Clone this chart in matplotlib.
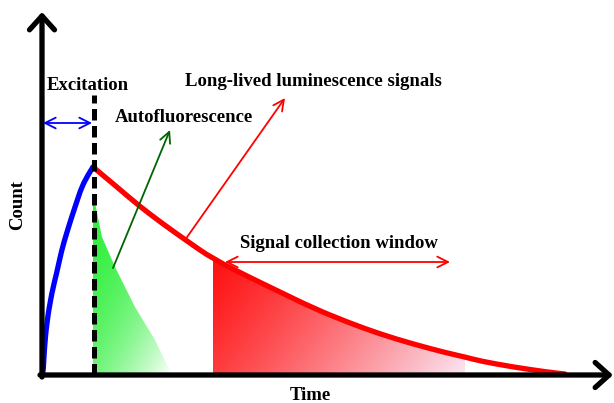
import matplotlib
matplotlib.use('Agg')
import matplotlib.pyplot as plt
from matplotlib.patches import Polygon, PathPatch
from matplotlib.path import Path
import numpy as np

# Excitation rise (blue)
rise_t = [0, 0.6, 1.3, 2.3, 4.7, 9.7, 14.7, 19.7, 24.7, 29.7, 34.7, 39.7, 46, 51]
rise_y = [0, 2, 5, 25, 52, 82, 102, 125, 142, 158, 173, 188, 200, 208]

# Long-lived luminescence decay (red)
decay_t = [51, 75, 96, 121, 145, 171, 211, 238, 271, 305, 338, 371, 405, 423, 438, 471, 505, 523]
decay_y = [208, 188, 170, 151, 134, 116, 96, 83, 67, 53, 41, 31, 22, 18, 14, 8, 3, 1]

# Autofluorescence decay (green filled area)
auto_t = [51, 53, 60, 73, 93, 113, 126, 130]
auto_y = [175, 172, 138, 108, 68, 35, 8, 0]

excitation_end = 52
window_start, window_end = 171, 423

FONT = dict(family='Liberation Serif', weight='bold', size=13.5)

fig = plt.figure(figsize=(6.14, 4.03), dpi=100)
ax = fig.add_axes([0, 0, 1, 1])
ax.axis('off')


def smooth_path(xs, ys):
    """quadratic bezier through the midpoints, using read points as controls"""
    pts = np.column_stack([xs, ys]).astype(float)
    verts = [pts[0], (pts[0] + pts[1]) / 2]
    codes = [Path.MOVETO, Path.LINETO]
    for i in range(1, len(pts) - 1):
        verts += [pts[i], (pts[i] + pts[i + 1]) / 2]
        codes += [Path.CURVE3, Path.CURVE3]
    verts.append(pts[-1])
    codes.append(Path.LINETO)
    return Path(verts, codes)


def gradient_fill(xs, ys, extent, c0, c1, wx, wy, power=1.0):
    """fill polygon xs/ys with a diagonal gradient c0 (top-left) -> c1 (bottom-right)"""
    xx, yy = np.meshgrid(np.linspace(0, 1, 200), np.linspace(0, 1, 120))
    t = (xx * wx + (1 - yy) * wy) / (wx + wy)
    t = np.clip(t, 0, 1) ** power
    img = np.array(c0)[None, None, :] * (1 - t[..., None]) + np.array(c1)[None, None, :] * t[..., None]
    poly = Polygon(np.column_stack([xs, ys]), closed=True, facecolor='none', edgecolor='none')
    ax.add_patch(poly)
    im = ax.imshow(img, extent=extent, origin='lower', aspect='auto', zorder=1)
    im.set_clip_path(poly)


# green autofluorescence area
gx = [auto_t[0]] + auto_t + [auto_t[0]]
gy = [0] + auto_y + [0]
gradient_fill(gx, gy, (auto_t[0], auto_t[-1], 0, auto_y[0]),
              (0.2, 0.94, 0.25), (1.0, 1.0, 1.0), 0.8, 1.0, power=2.0)

# red signal collection window area
dt = np.array(decay_t)
dy = np.array(decay_y)
mask = (dt >= window_start) & (dt <= window_end)
rx = [window_start] + list(dt[mask]) + [window_end]
ry = [0] + list(dy[mask]) + [0]
gradient_fill(rx, ry, (window_start, window_end, 0, dy[mask].max()),
              (1.0, 0.07, 0.07), (0.98, 0.9, 0.95), 1.0, 0.35, power=1.2)

# curves
ax.add_patch(PathPatch(smooth_path(decay_t, decay_y), facecolor='none',
                       edgecolor='#ff0000', lw=3.8, capstyle='round', zorder=3))
ax.add_patch(PathPatch(smooth_path(rise_t, rise_y), facecolor='none',
                       edgecolor='#0000ff', lw=3.8, capstyle='round', zorder=4))

# excitation cut-off dashed line
ax.plot([excitation_end, excitation_end], [0, 280], color='black', lw=3.6,
        dashes=(2.3, 1.1), zorder=5)

# axes with open arrowheads
axis_style = dict(arrowstyle='->,head_length=0.5,head_width=0.45', color='black',
                  lw=3.8, shrinkA=0, shrinkB=0, mutation_scale=20)
ax.annotate('', xy=(0, 363), xytext=(0, -2), arrowprops=axis_style, zorder=6)
ax.annotate('', xy=(571, 0), xytext=(-2, 0), arrowprops=axis_style, zorder=6)


def thin_arrow(start, end, color, style='->'):
    ax.annotate('', xy=end, xytext=start, zorder=6,
                arrowprops=dict(arrowstyle=style + ',head_length=0.7,head_width=0.35',
                                color=color, lw=1.3, shrinkA=0, shrinkB=0,
                                mutation_scale=11))


thin_arrow((1, 252), (50, 252), '#0000ff', '<->')
thin_arrow((71, 107), (128, 245), '#006400')
thin_arrow((143, 135), (243, 277), '#ff0000')
thin_arrow((183, 113), (408, 113), '#ff0000', '<->')

# labels
ax.text(5, 290, 'Excitation', va='center', ha='left', **FONT)
ax.text(73, 258, 'Autofluorescence', va='center', ha='left', **FONT)
ax.text(143, 294, 'Long-lived luminescence signals', va='center', ha='left', **FONT)
ax.text(198, 132, 'Signal collection window', va='center', ha='left', **FONT)
ax.text(-24, 170, 'Count', va='center', ha='center', rotation=90, **FONT)
ax.text(268, -20, 'Time', va='center', ha='center', **FONT)

ax.set_xlim(-42, 572)
ax.set_ylim(-28, 375)

fig.savefig('out.png', dpi=100)
